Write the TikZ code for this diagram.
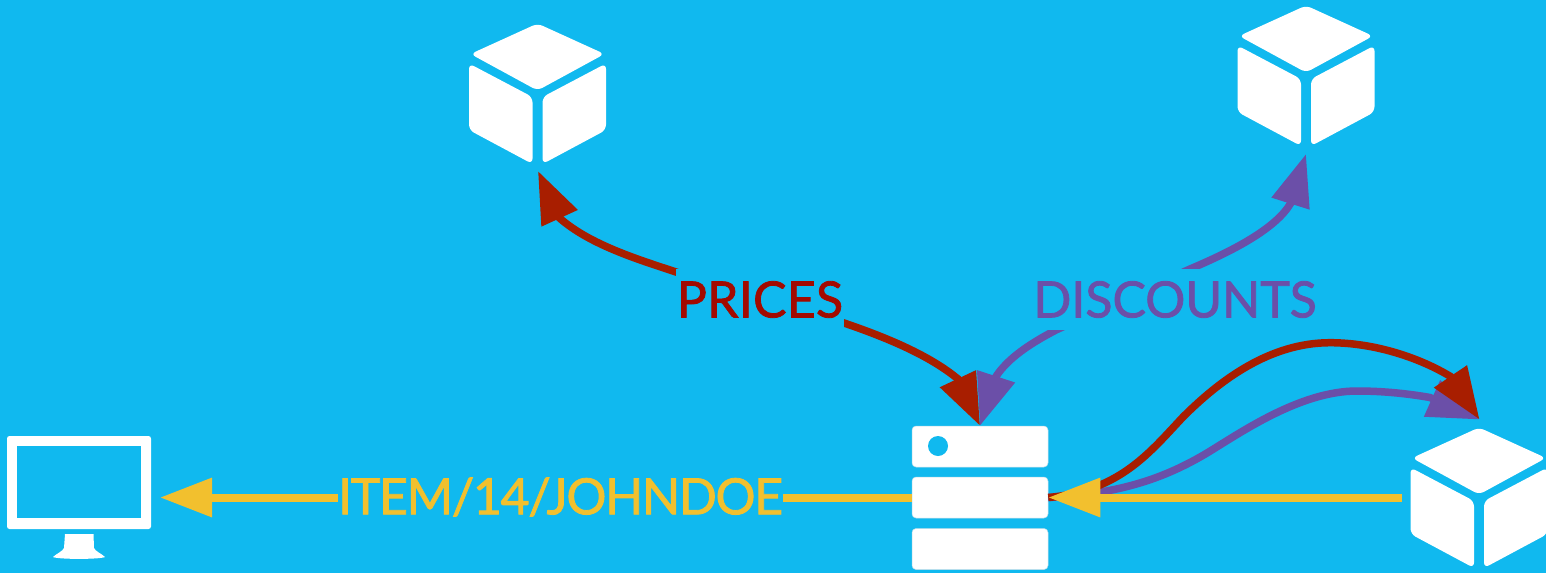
\documentclass[tikz,border=0pt]{standalone}
\usepackage{fontspec}
\setmainfont{Lato}
\newfontfamily\labfont{Lato}[FakeBold=1.6]
\newfontfamily\itemfont{Lato}[FakeBold=1.6,LetterSpace=-2.7]
\newfontfamily\pricefont{Lato}[FakeBold=1.6,LetterSpace=0.6]
\usetikzlibrary{arrows.meta}
\definecolor{bgc}{HTML}{10B9EF}
\definecolor{redc}{HTML}{A81E00}
\definecolor{redt}{HTML}{A30A00}
\definecolor{purc}{HTML}{6B4FA8}
\definecolor{yelc}{HTML}{F2C02E}
\definecolor{srvedge}{HTML}{BFDCE8}
\tikzset{
  x=1pt,y=-1pt,
  face/.style={fill=white,rounded corners=5.5pt},
  serverbox/.style={fill=white,draw=srvedge,line width=0.5pt,rounded corners=4pt,minimum width=136pt,minimum height=41pt,inner sep=0pt},
  conn/.style={line width=7.5pt},
  redconn/.style={conn,draw=redc,{Triangle[length=52pt,width=38pt,color=redc]}-{Triangle[length=52pt,width=38pt,color=redc]}},
  redconnone/.style={conn,draw=redc,-{Triangle[length=52pt,width=38pt,color=redc]}},
  purconn/.style={conn,draw=purc,-{Triangle[length=52pt,width=38pt,color=purc]}},
  purconntwo/.style={conn,draw=purc,{Triangle[length=52pt,width=38pt,color=purc]}-{Triangle[length=52pt,width=38pt,color=purc]}},
  yelconn/.style={line width=8pt,draw=yelc,-{Triangle[length=52pt,width=37.5pt,color=yelc]}},
  lab/.style={fill=bgc,inner sep=0pt,minimum height=61pt},
  pics/cube/.style={code={
    \fill[face] (0,-1.5) -- (67,29) -- (0,65.5) -- (-67,29) -- cycle;
    \fill[face] (-68.5,38.5) -- (-5,72) -- (-5,139) -- (-68.5,105) -- cycle;
    \fill[face] (68.5,38.5) -- (5,72) -- (5,139) -- (68.5,105) -- cycle;
  }}
}
\begin{document}
\begin{tikzpicture}
\useasboundingbox (0,0) rectangle (1546,573);
\fill[bgc] (0,0) rectangle (1546,573);
% icons
\pic at (537.5,25) {cube};
\pic at (1306,7) {cube};
\begin{scope}
\clip (0,0) rectangle (1546,573);
\pic at (1479,429) {cube};
\end{scope}
% monitor
\node[fill=white,rounded corners=2.5pt,minimum width=144pt,minimum height=93pt,inner sep=0pt] (monitor) at (79,482.5) {};
\node[fill=bgc,minimum width=124pt,minimum height=72pt,inner sep=0pt] (screen) at (79,482) {};
\fill[white] (65,534) -- (93.5,534) -- (94,548) .. controls (95,551) and (102,554) .. (105,557) .. controls (100,559.5) and (58,559.5) .. (53,557) .. controls (56,554) and (63,551) .. (64,548) -- cycle;
% server
\node[serverbox] (srvA) at (980,446.5) {};
\node[serverbox] (srvB) at (980,497.5) {};
\node[serverbox] (srvC) at (980,549) {};
\fill[bgc] (938,446) circle (10);
% named ends
\coordinate (cubeAtip) at (538,171);
\coordinate (cubeAbase) at (559.5,218);
\coordinate (srvRbase) at (958,379);
\coordinate (srvPbase) at (996,376.5);
\coordinate (cubeBtip) at (1306,154);
\coordinate (cubeBbase) at (1290.5,203.5);
\coordinate (cubeCtip) at (1479.5,419.5);
\coordinate (cubeCredbase) at (1450.5,376.5);
\coordinate (cubeCpurbase) at (1430,397.5);
\coordinate (monTip) at (160,497.5);
\coordinate (cubeCout) at (1402,497.5);
% connectors
\draw[redconn] (cubeAtip) -- (cubeAbase) .. controls (590,245) and (640,260) .. (676,272) -- (844,323) .. controls (900,342) and (935,360) .. (srvRbase) -- (srvA.north);
\draw[purconntwo] (srvA.north) -- (srvPbase) .. controls (1008,358) and (1031,343) .. (1056,330) -- (1190,269) .. controls (1235,250) and (1276,228) .. (cubeBbase) -- (cubeBtip);
\draw[purconn] (srvB.east) .. controls (1120,494) and (1165,478) .. (1207,453) .. controls (1240,433) and (1300,391) .. (1357,391) .. controls (1385,391) and (1410,394) .. (cubeCpurbase) -- (cubeCtip);
\draw[redconnone] (srvB.east) .. controls (1120,491) and (1150,452) .. (1183,417) .. controls (1220,380) and (1270,342.7) .. (1330,342.7) .. controls (1375,342.7) and (1420,358) .. (cubeCredbase) -- (cubeCtip);
\draw[yelconn] (cubeCout) -- (srvB.east);
\draw[yelconn] (srvB.west) -- (monTip);
% labels
\node[lab,text=redt,minimum width=168pt,font=\pricefont\fontsize{50}{60}\selectfont] (prices) at (760,299.5) {PRICES};
\node[lab,text=purc,minimum width=282pt,font=\labfont\fontsize{50}{60}\selectfont] (discounts) at (1175,299.5) {DISCOUNTS};
\node[lab,text=yelc,minimum width=445pt,font=\itemfont\fontsize{50}{60}\selectfont] (item) at (560.5,497) {ITEM/14/JOHNDOE};
\end{tikzpicture}
\end{document}
